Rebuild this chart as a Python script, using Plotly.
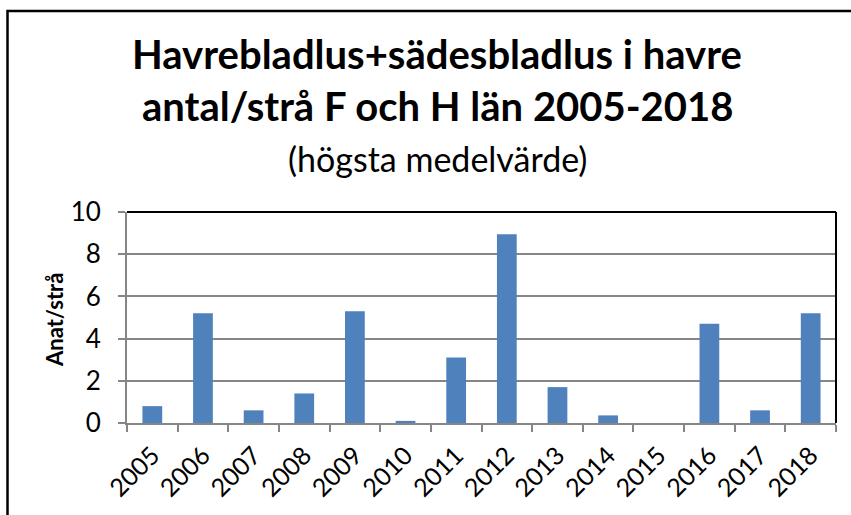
import plotly.graph_objects as go

years = ["2005", "2006", "2007", "2008", "2009", "2010", "2011",
         "2012", "2013", "2014", "2015", "2016", "2017", "2018"]
values = [0.8, 5.2, 0.6, 1.4, 5.3, 0.1, 3.1, 8.95, 1.7, 0.36, 0.0, 4.7, 0.6, 5.2]
y_ticks = [0, 2, 4, 6, 8, 10]

title_line1 = "Havrebladlus+sädesbladlus i havre"
title_line2 = "antal/strå F och H län 2005-2018"
title_line3 = "(högsta medelvärde)"
y_title = "Anat/strå"

FONT = "Lato"

W, H = 851, 515
L, R, T, B = 127, 15, 212, 92
ph = H - T - B
pw = W - L - R


def py(ypix):
    return (H - B - ypix) / ph


def px(xpix):
    return (xpix - L) / pw


fig = go.Figure(go.Bar(
    x=years, y=values,
    marker=dict(color="#4F81BD", line=dict(width=0)),
    width=0.39,
))

fig.update_layout(
    width=W, height=H,
    margin=dict(l=L, r=R, t=T, b=B, autoexpand=False),
    paper_bgcolor="white", plot_bgcolor="white",
    showlegend=False,
    font=dict(family=FONT, color="black"),
    xaxis=dict(
        type="category",
        automargin=False,
        tickangle=-45,
        tickfont=dict(size=25, family=FONT),
        ticklabelstandoff=6,
        showline=True, linecolor="#868686", linewidth=2,
        ticks="outside", ticklen=7, tickcolor="#868686", tickwidth=2,
        tickson="boundaries",
        showgrid=False,
    ),
    yaxis=dict(
        range=[0, 10],
        automargin=False,
        tickvals=y_ticks,
        tickfont=dict(size=26, family=FONT),
        ticklabelstandoff=12,
        showline=True, linecolor="#868686", linewidth=2,
        ticks="outside", ticklen=7, tickcolor="#868686", tickwidth=2,
        showgrid=True, gridcolor="#868686", gridwidth=1.5,
        zeroline=False,
    ),
    shapes=[
        # outer chart frame
        dict(type="rect", xref="paper", yref="paper",
             x0=px(7.5), x1=px(W + 20), y0=py(H + 20), y1=py(11),
             line=dict(color="black", width=2.5), layer="above"),
        # plot area top & right border
        dict(type="line", xref="paper", yref="paper", x0=0, x1=1, y0=1, y1=1,
             line=dict(color="black", width=2)),
        dict(type="line", xref="paper", yref="paper", x0=1, x1=1, y0=0, y1=1,
             line=dict(color="black", width=2)),
    ],
)

for text, yy, size, bold in [(title_line1, 54, 40, True),
                             (title_line2, 106, 40, True),
                             (title_line3, 158, 34, False)]:
    fig.add_annotation(
        text=("<b>" + text + "</b>") if bold else text,
        xref="paper", yref="paper", x=px(437), y=py(yy),
        xanchor="center", yanchor="middle", showarrow=False,
        font=dict(size=size, family=FONT, color="black"),
    )

fig.add_annotation(
    text="<b>" + y_title + "</b>",
    xref="paper", yref="paper", x=px(54), y=py(320),
    xanchor="center", yanchor="middle", showarrow=False, textangle=-90,
    font=dict(size=22, family=FONT, color="black"),
)

fig.write_html("out.html",
               config={"displayModeBar": False},
               post_script="document.body.style.margin='0';document.body.style.padding='0';")
